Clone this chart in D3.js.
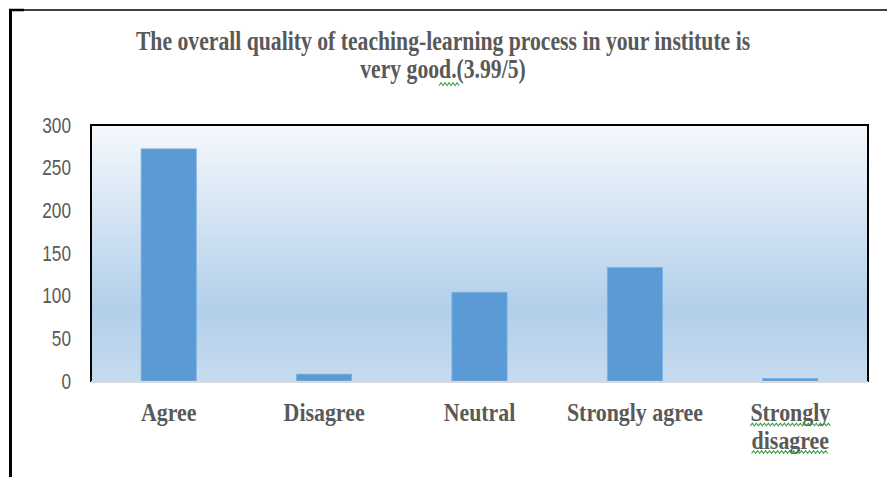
<!DOCTYPE html>
<html>
<meta charset="utf-8">
<title>Teaching-learning quality</title>
<script src="https://d3js.org/d3.v7.min.js"></script>
<style>
body { margin: 0; background: #fff; }
.tick text { font-family: "Liberation Sans Narrow", "Liberation Sans", sans-serif; font-size: 21px; fill: #595959; }
.serif { font-family: "Liberation Serif", "Times New Roman", serif; font-weight: bold; fill: #595959; }
</style>
<body>
<svg width="889" height="477"></svg>
<script>
// data
var categories = ["Agree", "Disagree", "Neutral", "Strongly agree", "Strongly disagree"];
var counts = [272, 8, 104, 133, 3];
var labelLines = [["Agree"], ["Disagree"], ["Neutral"], ["Strongly agree"], ["Strongly", "disagree"]];
var yTicks = [0, 50, 100, 150, 200, 250, 300];
var titleLines = ["The overall quality of teaching-learning process in your institute is", "very good.(3.99/5)"];

var svg = d3.select("svg");
var plot = {left: 91, top: 125, right: 868, bottom: 381};

var x = d3.scaleBand().domain(categories).range([plot.left, plot.right])
  .paddingInner(0.645).paddingOuter(0.3225);
var y = d3.scaleLinear().domain([0, 300]).range([plot.bottom, plot.top]);

// squiggly spell-check underline
function squiggle(g, x0, x1, yy) {
  var pts = [];
  for (var i = 0, px = x0; px <= x1; i++, px += 2) pts.push([px, yy + (i % 2 ? -1.2 : 1.2)]);
  g.append("path").attr("d", d3.line()(pts)).attr("fill", "none")
    .attr("stroke", "#3aa046").attr("stroke-width", 1);
}

// outer frame
svg.append("line").attr("x1", 10.5).attr("x2", 10.5).attr("y1", 9).attr("y2", 477)
  .attr("stroke", "#000").attr("stroke-width", 3);
svg.append("line").attr("x1", 9).attr("x2", 887).attr("y1", 10).attr("y2", 10)
  .attr("stroke", "#000").attr("stroke-width", 1.3);
svg.append("line").attr("x1", 9).attr("x2", 24).attr("y1", 10).attr("y2", 10)
  .attr("stroke", "#000").attr("stroke-width", 2.5);

// gradient background
var grad = svg.append("defs").append("linearGradient").attr("id", "bg")
  .attr("x1", 0).attr("x2", 0).attr("y1", 0).attr("y2", 1);
grad.append("stop").attr("offset", 0).attr("stop-color", "#f5f8fc");
grad.append("stop").attr("offset", 0.72).attr("stop-color", "#b2cfea");
grad.append("stop").attr("offset", 1).attr("stop-color", "#c6dbef");

svg.append("rect").attr("x", plot.left).attr("y", plot.top)
  .attr("width", plot.right - plot.left).attr("height", plot.bottom - plot.top)
  .attr("fill", "url(#bg)");

// bars
svg.selectAll(".bar").data(counts).enter().append("rect")
  .attr("class", "bar")
  .attr("x", function(d, i) { return x(categories[i]); })
  .attr("y", function(d) { return y(d); })
  .attr("width", x.bandwidth())
  .attr("height", function(d) { return y(0) - y(d); })
  .attr("fill", "#5b9bd5")
  .attr("stroke", "#7eb0e0").attr("stroke-width", 0.8);

// plot frame
svg.append("path")
  .attr("d", "M" + plot.left + "," + (plot.bottom + 1) + "V" + plot.top + "H" + plot.right + "V" + (plot.bottom + 1))
  .attr("fill", "none").attr("stroke", "#000").attr("stroke-width", 2);
svg.append("line").attr("x1", plot.left).attr("x2", plot.right)
  .attr("y1", plot.bottom + 1).attr("y2", plot.bottom + 1)
  .attr("stroke", "#d9d9d9").attr("stroke-width", 2);

// y axis (condensed digits)
var yAxis = svg.append("g").attr("transform", "translate(" + plot.left + ",0)")
  .call(d3.axisLeft(y).tickValues(yTicks).tickSize(0));
yAxis.select(".domain").remove();
yAxis.selectAll(".tick text").attr("x", 0).attr("dy", "0.33em")
  .attr("transform", "translate(-20,0) scale(0.82,1.05)");

// category labels
var lab = svg.selectAll(".cat").data(labelLines).enter().append("g")
  .attr("class", "cat")
  .attr("transform", function(d, i) { return "translate(" + (x(categories[i]) + x.bandwidth() / 2) + ",421) scale(1,1.15)"; });
lab.each(function(lines) {
  var g = d3.select(this);
  lines.forEach(function(s, j) {
    var t = g.append("text").attr("class", "serif").attr("text-anchor", "middle")
      .attr("y", j * 24).style("font-size", "21.9px").text(s);
    if (lines.length > 1) {
      var b = t.node().getBBox();
      squiggle(g, b.x, b.x + b.width, j * 24 + 3);
    }
  });
});

// title
titleLines.forEach(function(s, j) {
  var g = svg.append("g").attr("transform", "translate(443," + (50 + j * 28) + ") scale(1,1.22)");
  var t = g.append("text").attr("class", "serif").attr("text-anchor", "middle")
    .style("font-size", "21.7px");
  if (j === 1) {
    t.append("tspan").text("very ");
    var w = t.append("tspan").text("good.");
    t.append("tspan").text("(3.99/5)");
    var b = w.node().getBBox();
    squiggle(g, b.x + b.width * 0.65, b.x + b.width + 3, 5);
  } else {
    t.text(s);
  }
});
</script>
</body>
</html>
